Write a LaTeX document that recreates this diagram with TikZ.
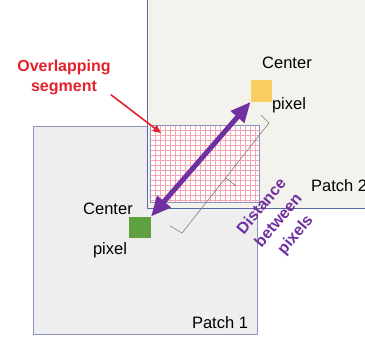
\documentclass[tikz,border=0pt]{standalone}
\usepackage{fontspec}
\setmainfont{Liberation Sans}
\usetikzlibrary{arrows.meta}
\definecolor{patchgray}{HTML}{EEEEEE}
\definecolor{patchbeige}{HTML}{F3F2ED}
\definecolor{edgeblue}{HTML}{8A93BC}
\definecolor{edgedark}{HTML}{5A6AA6}
\definecolor{gridpink}{HTML}{F5A8B2}
\definecolor{pixyellow}{HTML}{F8CE62}
\definecolor{pixgreen}{HTML}{5FA040}
\definecolor{distpurple}{HTML}{7030A0}
\definecolor{labelred}{HTML}{E5202A}

\begin{document}
\begin{tikzpicture}[x=1pt,y=-1pt,
	patch/.style={draw=edgeblue, line width=0.9pt, inner sep=0pt},
	pixbox/.style={inner sep=0pt, minimum size=21.5pt},
	lbl/.style={font=\fontsize{16.5}{20}\selectfont, inner sep=0pt},
	boldlbl/.style={font=\bfseries\fontsize{16}{20}\selectfont, align=center, inner sep=0pt}]
	\useasboundingbox (0,0) rectangle (365,338);
	\clip (0,0) rectangle (365,338);
	\node[patch, fill=patchgray, minimum width=224pt, minimum height=208pt] (patch1) at (145,230) {};
	\node[patch, draw=edgedark, fill=patchbeige, minimum width=253pt, minimum height=228pt] (patch2) at (273.5,94) {};
	\node[inner sep=0pt, fill=white, minimum width=108pt, minimum height=76pt] (overlap) at (205,164) {};
	\draw[gridpink, line width=0.55pt, step=5pt] (overlap.south west) grid (overlap.north east);
	\draw[edgeblue, line width=0.9pt] (overlap.south west) rectangle (overlap.north east);
	
	\node[lbl] (center2) at (287,63) {Center};
	\node[lbl] (pixel2) at (289,105) {pixel};
	\node[lbl] (center1) at (108,209) {Center};
	\node[lbl] (pixel1) at (110,250) {pixel};
	\node[lbl, anchor=west] (patch2lbl) at (311,186) {Patch 2};
	\node[lbl] (patch1lbl) at (220,323) {Patch 1};
	
	\node[pixbox, fill=pixyellow] (ypix) at (261.5,91) {};
	\node[pixbox, fill=pixgreen] (gpix) at (140,227.5) {};
	
	\draw[gray, line width=0.6pt] (261,115) -- (269,123) -- (182,233) -- (170,226);
	\draw[gray, line width=0.6pt] (226,178) -- (236,186);
	
	\draw[distpurple, line width=5pt, {Triangle[length=20pt,width=17pt]}-{Triangle[length=20pt,width=17pt]}] (gpix.north east) -- (ypix.south west);
	
	\node[boldlbl, text=labelred] (overlaplbl) at (64,77) {Overlapping\\segment};
	\coordinate (overlaptip) at (161,133);
	\draw[labelred, line width=1.6pt, -{Triangle[length=8pt,width=7pt]}] (overlaplbl.south east) -- (overlaptip);
	
	\node[boldlbl, text=distpurple, font=\bfseries\fontsize{16}{22}\selectfont, rotate=50] (distlbl) at (279,221) {Distance\\between\\pixels};
\end{tikzpicture}
\end{document}
